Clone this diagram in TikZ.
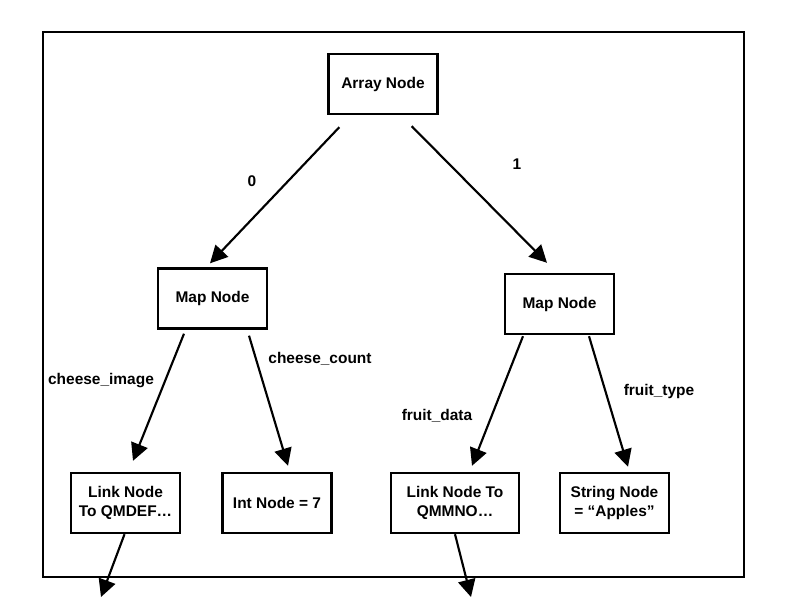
\documentclass[tikz,border=0pt]{standalone}
\usepackage{fontspec}
\setmainfont{Liberation Sans}
\usetikzlibrary{arrows.meta}
\tikzset{box/.style={draw, line width=1.8pt, minimum width=81.75pt, minimum height=45pt,
   align=center, inner sep=2pt, font=\bfseries\fontsize{11.6}{14}\selectfont},
 conn/.style={line width=1.6pt, -{Triangle[length=13pt,width=13pt]}},
 lbl/.style={font=\bfseries\fontsize{11.6}{14}\selectfont},
 frame/.style={line width=1.8pt},
 }

\begin{document}
\begin{tikzpicture}[x=0.75pt, y=-0.75pt]
    \useasboundingbox (0, 0) rectangle (800, 600);
    \draw[frame] (43, 32) rectangle (744, 577);
    % nodes
    \node[box] (arr) at (383, 84) {Array Node};
    \node[box] (mapl) at (212.5, 298.5) {Map Node};
    \node[box] (mapr) at (559.5, 304) {Map Node};
    \node[box] (linkl) at (125.5, 503) {Link Node\\To QMDEF…};
    \node[box] (intn) at (277, 503) {Int Node = 7};
    \node[box, minimum width=96pt] (linkr) at (455, 503) {Link Node To\\QMMNO…};
    \node[box] (strn) at (614.5, 503) {String Node\\= ``Apples''};
    \coordinate (outl) at (101, 597);
    \coordinate (outr) at (471, 597);
    % connectors
    \draw[conn] ([shift={(12, 12)}]arr.south west) -- ([shift={(-2.5, -4)}]mapl.north);
    \draw[conn] ([shift={(-27, 11)}]arr.south east) -- ([shift={(-12.5, -10)}]mapr.north);
    \draw[conn] ([shift={(-28.5, 4)}]mapl.south) -- ([shift={(7.5, -11)}]linkl.north);
    \draw[conn] ([shift={(36.5, 6)}]mapl.south) -- ([shift={(11, -6)}]intn.north);
    \draw[conn] ([shift={(-36.5, 1)}]mapr.south) -- ([shift={(17, -6)}]linkr.north);
    \draw[conn] ([shift={(29.5, 1)}]mapr.south) -- ([shift={(13.5, -5)}]strn.north);
    \draw[conn] ([shift={(-1, 0)}]linkl.south) -- (outl);
    \draw[conn] (linkr.south) -- (outr);
    % labels
    \node[lbl] (l0) at (252, 181) {0};
    \node[lbl] (l1) at (517, 164) {1};
    \node[lbl] (lci) at (101, 381) {cheese\_image};
    \node[lbl] (lcc) at (320, 359) {cheese\_count};
    \node[lbl] (lfd) at (437, 416) {fruit\_data};
    \node[lbl] (lft) at (659, 391) {fruit\_type};
\end{tikzpicture}
\end{document}
